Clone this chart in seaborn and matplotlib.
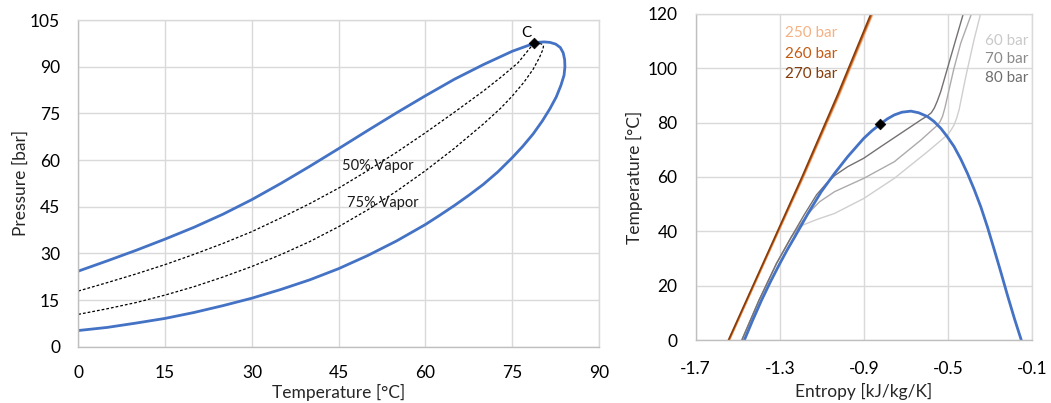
import numpy as np
import pandas as pd
import matplotlib
matplotlib.use("Agg")
import matplotlib.pyplot as plt
import seaborn as sns

# ---------------- Phase envelope (pressure vs temperature) ----------------
# bubble branch up to the critical region, round the nose, then the dew branch back down
env_T = [0, 5, 10, 15, 20, 25, 30, 35, 40, 45, 50, 55, 60, 65, 70, 75, 78.7,
         79.6, 80.5, 81.5, 82.5, 83.3, 83.8, 84.05, 84.1, 83.95, 83.4, 82.6, 81.5, 80.2,
         78.6, 76.8, 75, 72.5, 70, 67.5, 65, 62.5, 60, 55, 50, 45, 40, 35, 30, 25,
         20, 15, 10, 5, 0]
env_P = [24.3, 27.6, 31.0, 34.6, 38.4, 42.6, 47.3, 52.5, 58.0, 63.7, 69.5, 75.2, 80.7,
         86.0, 90.7, 95.0, 97.5,
         97.9, 98.0, 97.85, 97.3, 96.2, 94.5, 92.3, 90.0, 87.3, 84.0, 80.3, 76.5, 72.6,
         68.4, 64.4, 60.8, 56.2, 52.2, 48.7, 45.4, 42.3, 39.3, 34.0, 29.3, 25.1, 21.5,
         18.4, 15.6, 13.2, 11.0, 9.1, 7.6, 6.2, 5.2]

q50_T = [0, 5, 10, 15, 20, 25, 30, 35, 40, 45, 50, 55, 60, 65, 70, 73, 76, 78.7]
q50_P = [17.9, 20.6, 23.4, 26.4, 29.7, 33.2, 37.0, 41.4, 46.0, 51.0, 56.6, 62.5, 68.8,
         75.4, 82.2, 86.6, 91.3, 97.5]

q75_T = [0, 5, 10, 15, 20, 25, 30, 35, 40, 45, 50, 55, 60, 65, 70, 73, 75, 77, 78.6,
         79.7, 80.3, 80.4, 80.0, 79.4, 78.7]
q75_P = [10.4, 12.2, 14.2, 16.6, 19.3, 22.4, 25.8, 29.6, 33.8, 38.6, 44.0, 50.0, 56.6,
         63.8, 71.6, 76.7, 80.6, 85.0, 89.2, 93.0, 95.6, 96.8, 97.4, 97.6, 97.5]

crit_T = [78.7]
crit_P = [97.5]

# ---------------- Temperature vs entropy ----------------
dome_s = [-1.469, -1.430, -1.387, -1.344, -1.300, -1.265, -1.229, -1.166, -1.103, -1.040,
          -0.977, -0.901, -0.862, -0.823, -0.790, -0.756, -0.720, -0.677, -0.640, -0.598,
          -0.567, -0.535, -0.505, -0.472, -0.440, -0.408, -0.376, -0.345, -0.313, -0.282,
          -0.250, -0.219, -0.185, -0.152]
dome_T = [0, 7.2, 14.7, 21.6, 28.2, 33.2, 38.0, 46.6, 54.6, 61.3,
          67.5, 74.2, 77.0, 79.4, 81.3, 82.8, 83.8, 84.2, 83.6, 82.2,
          80.4, 77.9, 74.9, 71.2, 66.6, 61.3, 55.4, 49.1, 41.6, 33.6,
          25.2, 16.8, 8.0, 0]

dot_s = [-0.823]
dot_T = [79.4]

iso80_s = [-1.481, -1.399, -1.316, -1.245, -1.185, -1.125, -1.080, -1.040, -0.977, -0.901,
           -0.819, -0.724, -0.629, -0.598, -0.580, -0.566, -0.552, -0.535, -0.503, -0.464,
           -0.427]
iso80_T = [0, 14.7, 28.2, 38.0, 46.0, 53.5, 57.5, 60.5, 63.8, 66.9,
           71.2, 76.1, 81.0, 82.5, 83.6, 85.3, 87.8, 91.4, 100.0, 110.4,
           120.2]

iso70_s = [-1.481, -1.399, -1.316, -1.245, -1.190, -1.150, -1.111, -1.040, -0.901, -0.756,
           -0.629, -0.550, -0.538, -0.527, -0.515, -0.503, -0.472, -0.440, -0.388]
iso70_T = [0, 14.7, 28.2, 38.0, 44.0, 47.8, 50.9, 54.6, 59.5, 65.6,
           73.6, 79.1, 80.4, 82.2, 85.5, 89.6, 100.0, 109.2, 120.2]

iso60_s = [-1.481, -1.399, -1.316, -1.245, -1.192, -1.120, -1.040, -0.901, -0.756, -0.598,
           -0.503, -0.488, -0.472, -0.460, -0.448, -0.416, -0.377, -0.345]
iso60_T = [0, 14.7, 28.2, 38.0, 42.3, 44.5, 46.6, 52.1, 59.5, 69.3,
           75.5, 77.0, 79.1, 81.5, 84.7, 96.9, 110.4, 120.2]

iso_hp_T = [0, 30, 60, 90, 120]
iso250_s = [-1.539, -1.364, -1.187, -1.017, -0.857]
iso260_s = [-1.542, -1.367, -1.191, -1.022, -0.862]
iso270_s = [-1.545, -1.370, -1.195, -1.027, -0.867]

# ---------------- Axis ticks and labels ----------------
left_xticks = [0, 15, 30, 45, 60, 75, 90]
left_yticks = [0, 15, 30, 45, 60, 75, 90, 105]
right_xticks = [-1.7, -1.3, -0.9, -0.5, -0.1]
right_xlabels = ["-1.7", "-1.3", "-0.9", "-0.5", "-0.1"]
right_yticks = [0, 20, 40, 60, 80, 100, 120]

sns.set_theme(style="white")
plt.rcParams["font.family"] = ["Lato", "DejaVu Sans"]
plt.rcParams["axes.unicode_minus"] = False
plt.rcParams["lines.solid_joinstyle"] = "round"
plt.rcParams["lines.solid_capstyle"] = "round"

BLUE = "#4472C4"
GRID = "#D9D9D9"
AXIS = "#BFBFBF"
TICK_FS = 12.5
LABEL_FS = 12.5

fig = plt.figure(figsize=(10.51, 4.03), dpi=100)
ax1 = fig.add_axes([0.0745, 0.1397, 0.4955, 0.8103])
ax2 = fig.add_axes([0.6619, 0.1556, 0.3203, 0.8104])


def style_axes(ax):
    ax.grid(True, color=GRID, linewidth=1.0)
    ax.set_axisbelow(True)
    for side in ("top", "right"):
        ax.spines[side].set_color(GRID)
        ax.spines[side].set_linewidth(1.0)
    for side in ("left", "bottom"):
        ax.spines[side].set_color(AXIS)
        ax.spines[side].set_linewidth(1.0)
    ax.tick_params(axis="both", length=0, labelsize=TICK_FS, colors="black", pad=13)


# ----- left panel: P-T envelope -----
env = pd.DataFrame({"T": env_T, "P": env_P})
q50 = pd.DataFrame({"T": q50_T, "P": q50_P})
q75 = pd.DataFrame({"T": q75_T, "P": q75_P})

dash = (0, (2.2, 1.6))
sns.lineplot(data=q50, x="T", y="P", sort=False, estimator=None, ax=ax1,
             color="black", linewidth=0.9, linestyle=dash)
sns.lineplot(data=q75, x="T", y="P", sort=False, estimator=None, ax=ax1,
             color="black", linewidth=0.9, linestyle=dash)
sns.lineplot(data=env, x="T", y="P", sort=False, estimator=None, ax=ax1,
             color=BLUE, linewidth=2.0)
sns.scatterplot(x=crit_T, y=crit_P, ax=ax1, marker="D", s=30, color="black",
                edgecolor="black", zorder=5)

ax1.text(77.4, 100.9, "C", fontsize=11, ha="center", va="center", color="black")
ax1.text(45.6, 58.1, "50% Vapor", fontsize=10.5, ha="left", va="center", color="#1a1a1a")
ax1.text(46.4, 46.3, "75% Vapor", fontsize=10.5, ha="left", va="center", color="#1a1a1a")

ax1.set_xlim(0, 90)
ax1.set_ylim(0, 105)
ax1.set_xticks(left_xticks)
ax1.set_yticks(left_yticks)
style_axes(ax1)
ax1.set_xlabel("Temperature [°C]", fontsize=LABEL_FS, labelpad=2)
ax1.set_ylabel("Pressure [bar]", fontsize=LABEL_FS, labelpad=1)

# ----- right panel: T-s diagram -----
isobars = [
    (iso60_s, iso60_T, "#D0CECE", 1.0),
    (iso70_s, iso70_T, "#AEAAAA", 1.0),
    (iso80_s, iso80_T, "#767171", 1.0),
    (iso250_s, iso_hp_T, "#F4B183", 1.1),
    (iso260_s, iso_hp_T, "#C55A11", 1.1),
    (iso270_s, iso_hp_T, "#843C0C", 1.1),
]
for s_vals, t_vals, col, lw in isobars:
    sns.lineplot(x=s_vals, y=t_vals, sort=False, estimator=None, ax=ax2,
                 color=col, linewidth=lw)

sns.lineplot(x=dome_s, y=dome_T, sort=False, estimator=None, ax=ax2,
             color=BLUE, linewidth=2.0)
sns.scatterplot(x=dot_s, y=dot_T, ax=ax2, marker="D", s=30, color="black",
                edgecolor="black", zorder=5)

label_fs = 11
ax2.text(-1.275, 112.8, "250 bar", fontsize=label_fs, color="#F4B183", va="center")
ax2.text(-1.275, 105.3, "260 bar", fontsize=label_fs, color="#C55A11", va="center")
ax2.text(-1.275, 97.8, "270 bar", fontsize=label_fs, color="#843C0C", va="center")
ax2.text(-0.324, 110.1, "60 bar", fontsize=label_fs, color="#C9C9C9", va="center")
ax2.text(-0.324, 103.3, "70 bar", fontsize=label_fs, color="#8A8A8A", va="center")
ax2.text(-0.324, 96.5, "80 bar", fontsize=label_fs, color="#6E6E6E", va="center")

ax2.set_xlim(-1.7, -0.1)
ax2.set_ylim(0, 120)
ax2.set_xticks(right_xticks)
ax2.set_xticklabels(right_xlabels)
ax2.set_yticks(right_yticks)
style_axes(ax2)
ax2.tick_params(axis="x", pad=15)
ax2.set_xlabel("Entropy [kJ/kg/K]", fontsize=LABEL_FS, labelpad=4)
ax2.set_ylabel("Temperature [°C]", fontsize=LABEL_FS, labelpad=3)

fig.savefig("out.png", dpi=100)
